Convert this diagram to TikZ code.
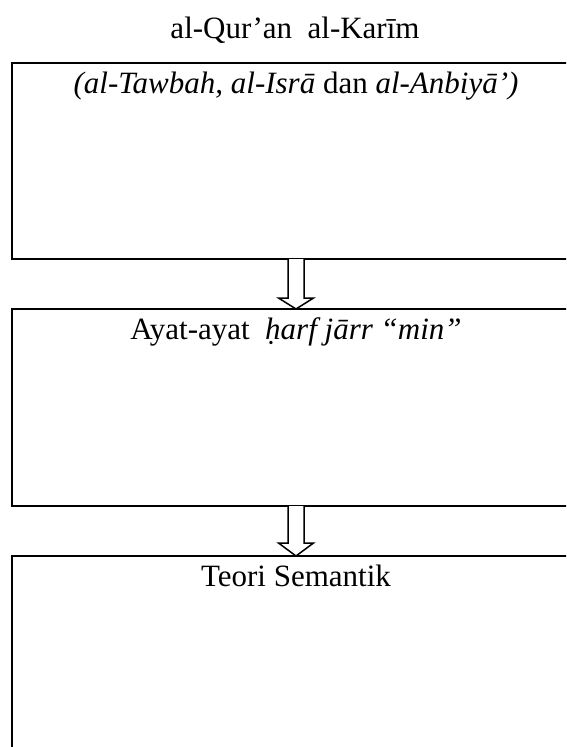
\documentclass[tikz,border=0pt]{standalone}
\usepackage{fontspec}
\setmainfont{Liberation Serif}[ItalicFont = {Liberation Serif Italic}, BoldFont = {Liberation Serif Bold}]
\usetikzlibrary{calc}
\tikzset{
  frame/.style = {draw, line width = 1.8pt, rectangle, anchor = north, minimum width = 568pt, inner xsep = 0pt, inner ysep = 0pt, outer sep = 0pt, text height = 30pt},
  hollowarrow/.style = {draw, line width = 1.5pt, fill = white, line join = miter}
}
\begin{document}
\begin{tikzpicture}[x = 1pt, y = -1pt, font = \fontsize{31}{37}\selectfont]
\useasboundingbox (0,0) rectangle (566,747);
\clip (0,0) rectangle (566,747);
\pgfmathsetlengthmacro\shaft{8};
\pgfmathsetlengthmacro\head{17.5};
\node[anchor = base] (title) at (295,38) {al-Qur’an\ \ al-Karīm};
\node[frame, text depth = 166pt] (surah) at (296,63) {\textit{(al-Tawbah, al-Isrā} dan \textit{al-Anbiyā’)}};
\node[frame, text depth = 167pt] (ayat) at (296,309) {Ayat-ayat\ \ \textit{ḥarf jārr “min”}};
\node[frame, text depth = 230pt] (teori) at (296,556) {Teori Semantik};
\draw[hollowarrow] ($(surah.south)+(-\shaft,0)$) -- ($(ayat.north)+(-\shaft,-11)$) -- ($(ayat.north)+(-\head,-11)$) -- (ayat.north) -- ($(ayat.north)+(\head,-11)$) -- ($(ayat.north)+(\shaft,-11)$) -- ($(surah.south)+(\shaft,0)$);
\draw[hollowarrow] ($(ayat.south)+(-\shaft,0)$) -- ($(teori.north)+(-\shaft,-13)$) -- ($(teori.north)+(-\head,-13)$) -- (teori.north) -- ($(teori.north)+(\head,-13)$) -- ($(teori.north)+(\shaft,-13)$) -- ($(ayat.south)+(\shaft,0)$);
\end{tikzpicture}
\end{document}
